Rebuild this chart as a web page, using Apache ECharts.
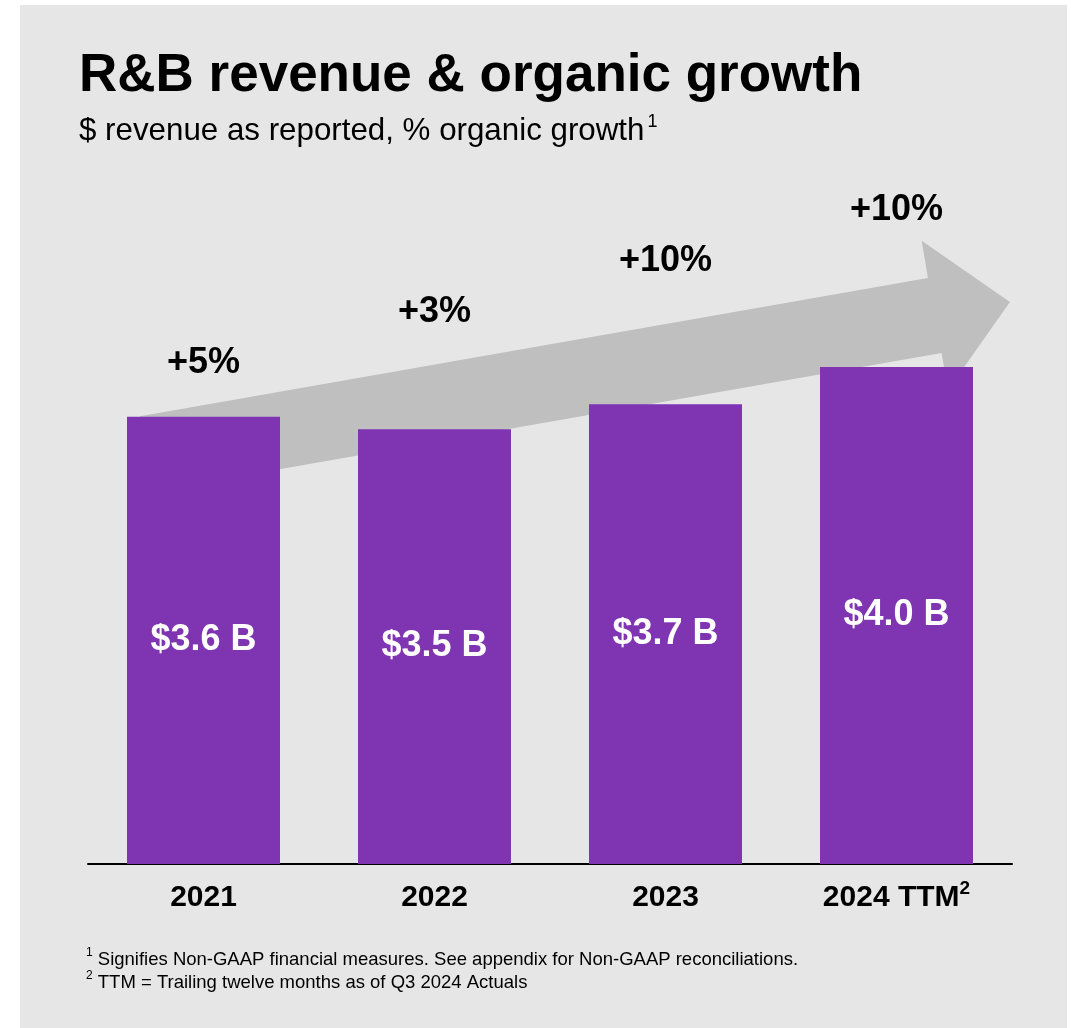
<!DOCTYPE html>
<html>
<head>
<meta charset="utf-8">
<title>R&amp;B revenue &amp; organic growth</title>
<script src="https://cdn.jsdelivr.net/npm/echarts@6/dist/echarts.min.js"></script>
<style>
  html, body { margin: 0; padding: 0; background: #ffffff; }
  #chart { width: 1071px; height: 1028px; }
</style>
</head>
<body>
<div id="chart"></div>
<script>
// ---- data ----
const categories = ['2021', '2022', '2023', '2024 TTM'];
const categoryNotes = ['', '', '', '2'];
const revenueB = [3.6, 3.5, 3.7, 4.0];          // $ billions, as reported
const organicGrowthPct = [5, 3, 10, 10];         // % organic growth

const titleText = 'R&B revenue & organic growth';
const subtitleText = '$ revenue as reported, % organic growth';
const footnotes = [
  { mark: '1', text: 'Signifies Non-GAAP financial measures. See appendix for Non-GAAP reconciliations.' },
  { mark: '2', text: 'TTM = Trailing twelve months as of Q3 2024 Actuals' }
];

// ---- styling / layout ----
const FONT = '"Liberation Sans", Arial, Helvetica, sans-serif';
const PANEL = '#e6e6e6';
const BAR = '#7f35b2';
const ARROW = '#bfbfbf';

// growth labels ride on a rising guide line (value-axis units)
const LABEL_BASE = 4.035;
const LABEL_STEP = 0.41;

// background arrow outline in (category index, value) space
const arrowShape = [
  [-0.275, 3.603], [3.136, 4.716], [3.109, 5.017], [3.491, 4.523],
  [3.223, 3.815], [3.195, 4.113], [-0.275, 2.980]
];

const chart = echarts.init(document.getElementById('chart'), null, { renderer: 'canvas' });

const option = {
  backgroundColor: '#ffffff',
  animation: false,
  grid: { left: 88, width: 924, top: 118.5, height: 745.5, containLabel: false },
  xAxis: {
    type: 'category',
    data: categories,
    axisLine: { lineStyle: { color: '#000000', width: 2 } },
    axisTick: { show: false },
    axisLabel: {
      margin: 15,
      interval: 0,
      formatter: (v, i) => '{b|' + v + '}' + (categoryNotes[i] ? '{s|' + categoryNotes[i] + '}' : ''),
      rich: {
        b: { fontFamily: FONT, fontSize: 30, fontWeight: 'bold', color: '#000', lineHeight: 34, verticalAlign: 'bottom' },
        s: { fontFamily: FONT, fontSize: 19, fontWeight: 'bold', color: '#000', lineHeight: 34, verticalAlign: 'top' }
      }
    }
  },
  yAxis: { type: 'value', min: 0, max: 6, show: false, splitLine: { show: false } },
  series: [{
    type: 'bar',
    data: revenueB,
    barWidth: 153,
    z: 3,
    itemStyle: { color: BAR },
    label: {
      show: true,
      position: 'inside',
      color: '#ffffff',
      fontFamily: FONT,
      fontSize: 36,
      fontWeight: 'bold',
      formatter: p => '$' + p.value.toFixed(1) + ' B'
    }
  }]
};

chart.setOption(option);

// map a (fractional category index, value) pair to pixels, interpolating
// between neighbouring category centres
function px(x, y) {
  const a = chart.convertToPixel({ gridIndex: 0 }, [0, y]);
  const b = chart.convertToPixel({ gridIndex: 0 }, [1, y]);
  return [a[0] + (b[0] - a[0]) * x, a[1]];
}

const graphics = [];

// light panel behind everything
graphics.push({ type: 'rect', z: -10, shape: { x: 20, y: 5, width: 1047, height: 1023 }, style: { fill: PANEL } });

// rising arrow behind the bars
graphics.push({
  type: 'polygon', z: 0,
  shape: { points: arrowShape.map(p => px(p[0], p[1])) },
  style: { fill: ARROW }
});

// title and subtitle
graphics.push({
  type: 'text', z: 5, x: 79, y: 76,
  style: { text: titleText, fontFamily: FONT, fontSize: 53, fontWeight: 'bold', fill: '#000', verticalAlign: 'middle' }
});
graphics.push({
  type: 'text', z: 5, x: 79, y: 130,
  style: {
    text: '{t|' + subtitleText + '}{s|1}',
    verticalAlign: 'middle',
    rich: {
      t: { fontFamily: FONT, fontSize: 31.3, fill: '#000', lineHeight: 34, verticalAlign: 'bottom' },
      s: { fontFamily: FONT, fontSize: 18, fill: '#000', lineHeight: 34, verticalAlign: 'top', padding: [0, 0, 0, 3] }
    }
  }
});

// organic growth labels
organicGrowthPct.forEach((g, i) => {
  const p = px(i, LABEL_BASE + LABEL_STEP * i);
  graphics.push({
    type: 'text', z: 5, x: p[0], y: p[1],
    style: { text: '+' + g + '%', fontFamily: FONT, fontSize: 36, fontWeight: 'bold', fill: '#000', align: 'center', verticalAlign: 'middle' }
  });
});

// footnotes
footnotes.forEach((f, i) => {
  graphics.push({
    type: 'text', z: 5, x: 86, y: 958 + i * 23,
    style: {
      text: '{s|' + f.mark + '}{t| ' + f.text + '}',
      verticalAlign: 'middle',
      rich: {
        t: { fontFamily: FONT, fontSize: 18.5, fill: '#000', lineHeight: 22, verticalAlign: 'bottom' },
        s: { fontFamily: FONT, fontSize: 12, fill: '#000', lineHeight: 22, verticalAlign: 'top' }
      }
    }
  });
});

chart.setOption({ graphic: { elements: graphics } });
</script>
</body>
</html>
